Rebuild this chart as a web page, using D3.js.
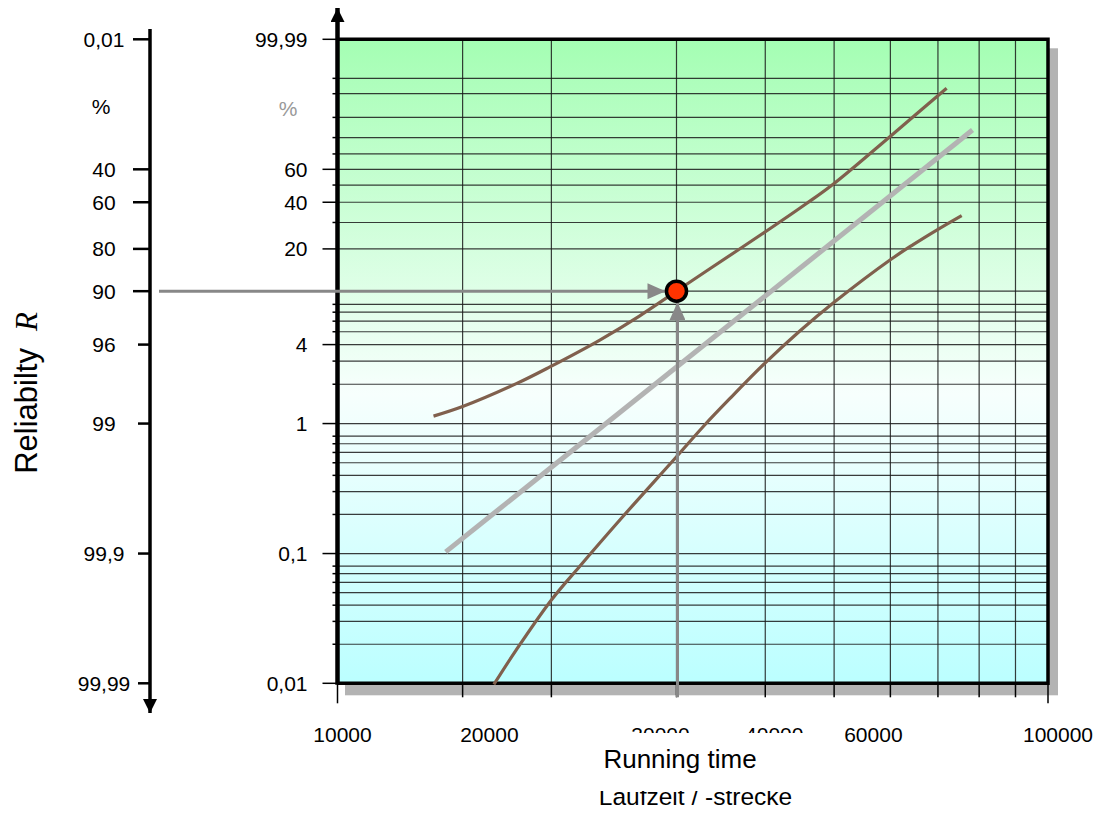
<!DOCTYPE html>
<html><head><meta charset="utf-8">
<script src="https://cdn.jsdelivr.net/npm/d3@7"></script>
<style>
body{margin:0;background:#fff;}
svg{display:block;font-family:Arial,"Liberation Sans",sans-serif;}
</style></head><body>
<svg id="chart" width="1104" height="813"></svg>
<script>
// ---------------- data ----------------
const xTickValues = [10000, 20000, 30000, 40000, 60000, 100000];
const xTickLabels = ["10000", "20000", "30000", "40000", "60000", "100000"];
const xGridValues = [15000, 20000, 30000, 40000, 50000, 60000, 70000, 80000, 90000];
const yGridPercent = [0.02,0.03,0.04,0.05,0.06,0.07,0.08,0.1,0.2,0.3,0.4,0.5,0.6,0.7,0.8,1,2,3,4,5,6,7,8,10,20,30,40,50,60,70,80,90,97,99];
const yTickPercent = [0.01, 0.1, 1, 4, 20, 40, 60, 99.99];
const yTickLabels = ["0,01", "0,1", "1", "4", "20", "40", "60", "99,99"];
const reliabilityTicks = [0.01, 40, 60, 80, 90, 96, 99, 99.9, 99.99];
const reliabilityLabels = ["0,01", "40", "60", "80", "90", "96", "99", "99,9", "99,99"];
// [running time, failure probability %]
const upperBound = [[13650,1.14],[15000,1.35],[17850,2.02],[19900,2.71],[23400,4.33],[26600,6.55],[30000,10.0],[33060,14.0],[40160,26.4],[45720,39.3],[50100,51.3],[60300,81.5],[72000,97.9]];
const weibullFit = [[14200,0.103],[78300,84.1]];
const lowerBound = [[16600,0.0098],[17850,0.0181],[20000,0.0439],[21900,0.0792],[25200,0.192],[30000,0.556],[32700,0.946],[35650,1.55],[40000,2.91],[44700,5.04],[50100,8.35],[60200,17.0],[64600,21.4],[70200,27.3],[75600,33.2]];
const markPoint = [30000, 10];

// ---------------- layout ----------------
const xLabelDx = [5, -62, -16, 9, -17, 10];
const plot = {left: 337.5, right: 1048, top: 39.3, bottom: 683.3};
const svg = d3.select("#chart");

const x = d3.scaleLog().domain([10000, 100000]).range([plot.left, plot.right]);
const weib = p => Math.log(-Math.log(1 - p / 100));
const yU = d3.scaleLinear().domain([weib(0.01), weib(99.99)]).range([plot.bottom, plot.top]);
const y = p => yU(weib(p));

const defs = svg.append("defs");
const grad = defs.append("linearGradient").attr("id", "bg").attr("x1", 0).attr("y1", 0).attr("x2", 0).attr("y2", 1);
grad.append("stop").attr("offset", "0").attr("stop-color", "#a4feb3");
grad.append("stop").attr("offset", "0.55").attr("stop-color", "#f7fffd");
grad.append("stop").attr("offset", "1").attr("stop-color", "#bbffff");

function arrowMarker(id, color, len, wid) {
  defs.append("marker").attr("id", id).attr("markerUnits", "userSpaceOnUse")
    .attr("viewBox", `0 ${-wid/2} ${len} ${wid}`).attr("refX", len).attr("refY", 0)
    .attr("markerWidth", len).attr("markerHeight", wid).attr("orient", "auto")
    .append("path").attr("d", `M0,${-wid/2}L${len},0L0,${wid/2}Z`).attr("fill", color);
}
arrowMarker("grayArrow", "#888", 18, 16);
arrowMarker("blackArrow", "#000", 14, 14);

// shadow
svg.append("rect").attr("x", plot.left + 7.5).attr("y", plot.top + 9)
  .attr("width", plot.right - plot.left + 2.5).attr("height", plot.bottom - plot.top + 3)
  .attr("fill", "#b3b3b3");
// background
svg.append("rect").attr("x", plot.left).attr("y", plot.top)
  .attr("width", plot.right - plot.left).attr("height", plot.bottom - plot.top)
  .attr("fill", "url(#bg)");

// grid
const grid = svg.append("g").attr("stroke", "#1a1a1a").attr("stroke-width", 1.2).attr("stroke-opacity", 0.85);
grid.selectAll("line.h").data(yGridPercent).join("line").attr("class", "h")
  .attr("x1", plot.left).attr("x2", plot.right).attr("y1", d => y(d)).attr("y2", d => y(d));
grid.selectAll("line.v").data(xGridValues).join("line").attr("class", "v")
  .attr("x1", d => x(d)).attr("x2", d => x(d)).attr("y1", plot.top).attr("y2", plot.bottom);

// x ticks below frame
svg.append("g").attr("stroke", "#000").attr("stroke-width", 1.5)
  .selectAll("line").data([10000].concat(xGridValues, [100000])).join("line")
  .attr("x1", d => x(d)).attr("x2", d => x(d))
  .attr("y1", plot.bottom).attr("y2", d => (d === 10000 || d === 100000) ? plot.bottom + 20 : plot.bottom + 14);

// frame
svg.append("path")
  .attr("d", `M${plot.left},${plot.top}H${plot.right}V${plot.bottom}H${plot.left}`)
  .attr("fill", "none").attr("stroke", "#000").attr("stroke-width", 3.5);
// plot y axis (left border with arrow)
svg.append("line").attr("x1", plot.left).attr("x2", plot.left)
  .attr("y1", plot.bottom + 1.5).attr("y2", 8)
  .attr("stroke", "#000").attr("stroke-width", 4.5).attr("marker-end", "url(#blackArrow)");

// right-hand y ticks (failure probability)
const yt = svg.append("g").attr("stroke", "#000").attr("stroke-width", 1.5);
yt.selectAll("line.minor").data(yGridPercent.filter(d => !yTickPercent.includes(d))).join("line").attr("class", "minor")
  .attr("x1", plot.left - 5).attr("x2", plot.left).attr("y1", d => y(d)).attr("y2", d => y(d));
yt.selectAll("line.major").data(yTickPercent).join("line").attr("class", "major")
  .attr("x1", plot.left - 15).attr("x2", plot.left).attr("y1", d => y(d)).attr("y2", d => y(d));
svg.append("g").selectAll("text").data(yTickPercent).join("text")
  .attr("x", plot.left - 30).attr("y", d => y(d)).attr("dy", "0.36em")
  .attr("text-anchor", "end").attr("font-size", 21).attr("fill", "#000")
  .text((d, i) => yTickLabels[i]);
svg.append("text").attr("x", 288).attr("y", 108).attr("dy", "0.36em").attr("text-anchor", "middle")
  .attr("font-size", 21).attr("fill", "#999").text("%");

// left reliability axis
const relX = 150;
svg.append("line").attr("x1", relX).attr("x2", relX).attr("y1", 29).attr("y2", 713)
  .attr("stroke", "#000").attr("stroke-width", 3.5).attr("marker-end", "url(#blackArrow)");
svg.append("g").attr("stroke", "#000").attr("stroke-width", 2.5)
  .selectAll("line").data(reliabilityTicks).join("line")
  .attr("x1", d => d <= 90 ? relX - 17 : relX - 12).attr("x2", relX)
  .attr("y1", d => y(100 - d)).attr("y2", d => y(100 - d));
svg.append("g").selectAll("text").data(reliabilityTicks).join("text")
  .attr("x", 104).attr("y", d => y(100 - d)).attr("dy", "0.36em")
  .attr("text-anchor", "middle").attr("font-size", 21).attr("fill", "#000")
  .text((d, i) => reliabilityLabels[i]);
svg.append("text").attr("x", 101).attr("y", 106.7).attr("dy", "0.36em").attr("text-anchor", "middle")
  .attr("font-size", 21).attr("fill", "#000").text("%");

// curves
const line = d3.line().x(d => x(d[0])).y(d => y(d[1]));
svg.append("path").datum(weibullFit).attr("d", line)
  .attr("fill", "none").attr("stroke", "#b3b3b3").attr("stroke-width", 5);
const curve = d3.line().x(d => x(d[0])).y(d => y(d[1])).curve(d3.curveCatmullRom.alpha(0.5));
[upperBound, lowerBound].forEach(s => {
  svg.append("path").datum(s).attr("d", curve)
    .attr("fill", "none").attr("stroke", "#80604d").attr("stroke-width", 3.2);
});

// reading arrows
const mx = x(markPoint[0]), my = y(markPoint[1]);
svg.append("line").attr("x1", 159).attr("x2", mx - 11).attr("y1", my).attr("y2", my)
  .attr("stroke", "#888").attr("stroke-width", 3).attr("marker-end", "url(#grayArrow)");
svg.append("line").attr("x1", mx + 1).attr("x2", mx + 1).attr("y1", plot.bottom + 14).attr("y2", my + 11)
  .attr("stroke", "#888").attr("stroke-width", 3).attr("marker-end", "url(#grayArrow)");
svg.append("circle").attr("cx", mx).attr("cy", my).attr("r", 10)
  .attr("fill", "#ff3300").attr("stroke", "#000").attr("stroke-width", 3.5);

// x tick labels
svg.append("g").selectAll("text").data(xTickValues).join("text")
  .attr("x", (d, i) => x(d) + xLabelDx[i]).attr("y", 741.5)
  .attr("text-anchor", "middle").attr("font-size", 21).attr("fill", "#000")
  .text((d, i) => xTickLabels[i]);

// axis titles
svg.append("text").attr("x", 695.5).attr("y", 805).attr("text-anchor", "middle")
  .attr("font-size", 24.5).attr("fill", "#000").text("Laufzeit / -strecke");
svg.append("rect").attr("x", 585).attr("y", 733).attr("width", 225).attr("height", 58).attr("fill", "#fff");
svg.append("text").attr("x", 680).attr("y", 768.3).attr("text-anchor", "middle")
  .attr("font-size", 26).attr("fill", "#000").text("Running time");

const rel = svg.append("text").attr("transform", "translate(37,393) rotate(-90)")
  .attr("text-anchor", "middle").attr("font-size", 31).attr("fill", "#000");
rel.append("tspan").text("Reliabilty");
rel.append("tspan").attr("dx", 17).attr("font-family", "'Times New Roman','Liberation Serif',serif")
  .attr("font-style", "italic").text("R");
</script>
</body></html>
